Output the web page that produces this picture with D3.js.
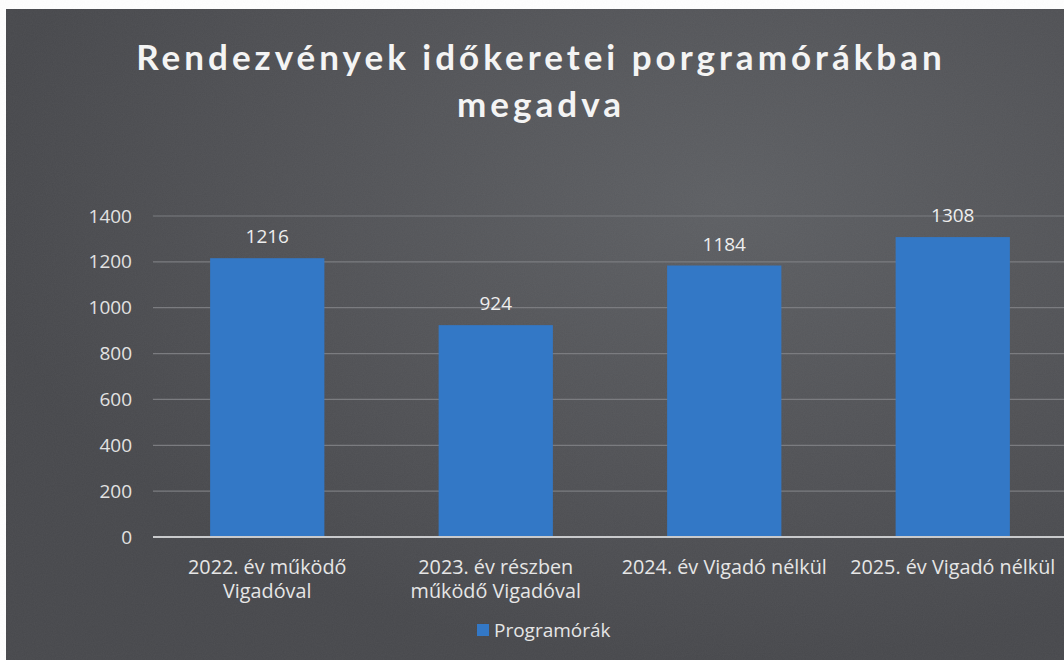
<!DOCTYPE html>
<html>
<head>
<meta charset="utf-8">
<script src="https://cdn.jsdelivr.net/npm/d3@7"></script>
<style>
  body { margin: 0; background: #fff; }
  svg { display: block; font-family: "Open Sans", sans-serif; }
</style>
</head>
<body>
<script>
(() => {
    // adatok
    var categories = [
        ["2022. év működő", "Vigadóval"],
        ["2023. év részben", "működő Vigadóval"],
        ["2024. év Vigadó nélkül"],
        ["2025. év Vigadó nélkül"]
    ];
    var values = [1216, 924, 1184, 1308];
    var yTicks = [0, 200, 400, 600, 800, 1000, 1200, 1400];
    var titleLines = ["Rendezvények időkeretei porgramórákban", "megadva"];
    var seriesName = "Programórák";

    var W = 1064, H = 660;
    var fs = 19.8;

    var svg = d3.select("body").append("svg")
        .attr("width", W).attr("height", H);

    var defs = svg.append("defs");
    var grad = defs.append("radialGradient").attr("id", "bg")
        .attr("cx", "0.68").attr("cy", "0.3").attr("r", "0.7");
    grad.append("stop").attr("offset", "0").attr("stop-color", "#5d5f63");
    grad.append("stop").attr("offset", "0.6").attr("stop-color", "#505155");
    grad.append("stop").attr("offset", "1").attr("stop-color", "#47484c");

    // kis zaj a szkennelt hatashoz
    var noise = defs.append("filter").attr("id", "grain");
    noise.append("feTurbulence").attr("type", "fractalNoise")
        .attr("baseFrequency", "0.9").attr("numOctaves", 2).attr("result", "n");
    noise.append("feColorMatrix").attr("type", "matrix")
        .attr("values", "0 0 0 0 0.5  0 0 0 0 0.5  0 0 0 0 0.5  0 0 0 0.07 0");

    svg.append("rect").attr("x", 6).attr("y", 9)
        .attr("width", W - 6).attr("height", H - 9).attr("fill", "url(#bg)");
    svg.append("rect").attr("x", 6).attr("y", 9)
        .attr("width", W - 6).attr("height", H - 9).attr("filter", "url(#grain)");

    // cim
    svg.append("g").selectAll("text").data(titleLines).enter().append("text")
        .attr("x", 541).attr("y", (d, i) => 70 + i * 47)
        .attr("text-anchor", "middle")
        .attr("fill", "#f4f4f4")
        .attr("font-family", "Lato, sans-serif")
        .attr("font-size", 35).attr("font-weight", 700)
        .attr("letter-spacing", "4px")
        .text(d => d);

    var margin = { left: 153, top: 216 };
    var plotW = 914, plotH = 321;

    var x = d3.scaleBand().domain(d3.range(values.length))
        .range([0, plotW]).paddingInner(0.5).paddingOuter(0.25);
    var y = d3.scaleLinear().domain([0, 1400]).range([plotH, 0]);

    var g = svg.append("g").attr("transform", "translate(" + [margin.left, margin.top] + ")");

    // racsvonalak
    g.append("g").selectAll("line").data(yTicks.filter(t => t > 0)).enter().append("line")
        .attr("x1", 0).attr("x2", plotW)
        .attr("y1", d => y(d)).attr("y2", d => y(d))
        .attr("stroke", "#7b7c80").attr("stroke-width", 1.2);

    // y tengely
    var yAxis = d3.axisLeft(y).tickValues(yTicks).tickFormat(d3.format("d"))
        .tickSize(0).tickPadding(21);
    var yg = g.append("g").call(yAxis);
    yg.select(".domain").remove();
    yg.selectAll("text").attr("fill", "#e2e2e2").attr("font-size", fs - 0.8)
        .attr("font-family", "'Open Sans', sans-serif");

    // oszlopok
    g.append("g").selectAll("rect").data(values).enter().append("rect")
        .attr("x", (d, i) => x(i)).attr("width", x.bandwidth())
        .attr("y", d => y(d)).attr("height", d => plotH - y(d))
        .attr("fill", "#3378c6");

    // ertekcimkek
    g.append("g").selectAll("text").data(values).enter().append("text")
        .attr("x", (d, i) => x(i) + x.bandwidth() / 2)
        .attr("y", d => y(d) - 15)
        .attr("text-anchor", "middle")
        .attr("fill", "#eeeeee").attr("font-size", fs - 0.8)
        .text(d => d);

    // alapvonal
    g.append("line").attr("x1", 0).attr("x2", plotW)
        .attr("y1", plotH).attr("y2", plotH)
        .attr("stroke", "#c9cacc").attr("stroke-width", 2);

    // kategoria cimkek
    var cat = g.append("g").selectAll("text").data(categories).enter().append("text")
        .attr("x", (d, i) => x(i) + x.bandwidth() / 2)
        .attr("y", plotH + 37)
        .attr("text-anchor", "middle")
        .attr("fill", "#e6e6e6").attr("font-size", fs);
    cat.selectAll("tspan").data(d => d).enter().append("tspan")
        .attr("x", function() { return d3.select(this.parentNode).attr("x"); })
        .attr("dy", (d, i) => i === 0 ? 0 : 24)
        .text(d => d);

    // jelmagyarazat
    var leg = svg.append("g").attr("transform", "translate(" + [477, 624] + ")");
    leg.append("rect").attr("width", 12).attr("height", 12).attr("fill", "#3378c6");
    leg.append("text").attr("x", 17).attr("y", 13)
        .attr("fill", "#e6e6e6").attr("font-size", fs - 0.8)
        .text(seriesName);
})();
</script>
</body>
</html>
